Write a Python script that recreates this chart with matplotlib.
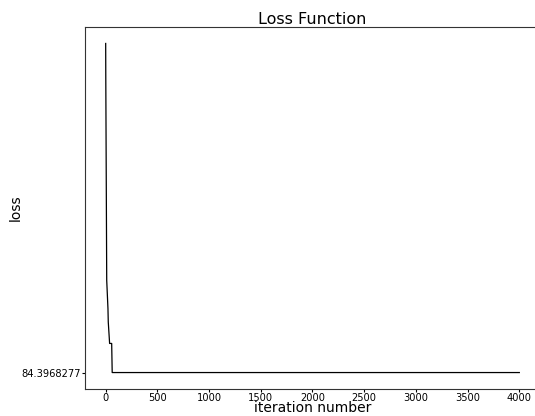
import matplotlib

matplotlib.use("Agg")
import matplotlib.pyplot as plt

# loss recorded at the iterations where the curve changes slope
iterations = [0, 1, 10, 22, 25, 38, 58, 63, 4000]
loss = [576.4, 526.9, 222.4, 180.0, 160.0, 127.9, 127.9, 84.3968277, 84.3968277]
final_loss = 84.3968277

fig = plt.figure(figsize=(5.35, 4.16), dpi=100)
ax = fig.add_axes([85 / 535, 1 - 389 / 416, 455 / 535, 362 / 416])

ax.plot(iterations, loss, color="black", lw=0.9)

ax.set_yticks([final_loss])
ax.set_yticklabels([f"{final_loss:.7f}"])
ax.set_xticks(range(0, 4001, 500))
ax.tick_params(labelsize=7.1, length=2, width=0.8, pad=0.8)
ax.spines["right"].set_visible(False)
for side in ("left", "top", "bottom"):
    ax.spines[side].set_color("#333333")

ax.set_title("Loss Function", fontsize=11.5, pad=2)
ax.set_xlabel("iteration number", fontsize=10, labelpad=-1)
ax.set_ylabel("loss", fontsize=10, labelpad=-1)

fig.savefig("out.png", dpi=100)
